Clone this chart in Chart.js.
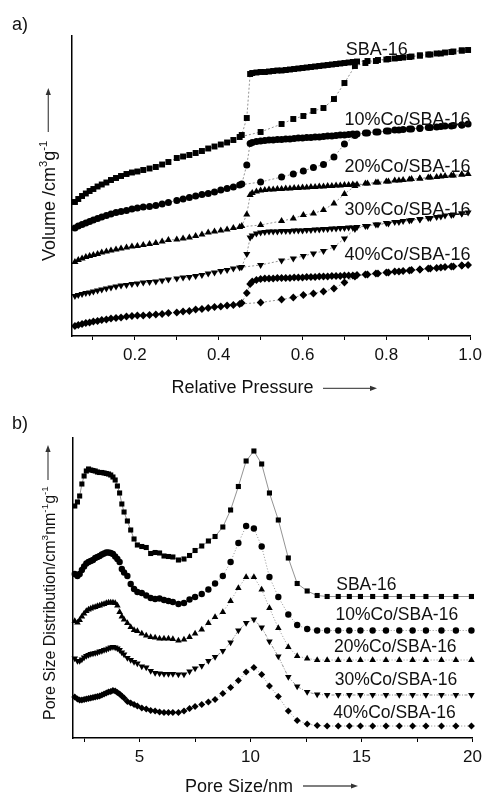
<!DOCTYPE html>
<html>
<head>
<meta charset="utf-8">
<script src="https://cdn.jsdelivr.net/npm/chart.js@4.4.1/dist/chart.umd.min.js"></script>
<style>
  html, body { margin: 0; padding: 0; background: #fff; }
  .panel { position: absolute; left: 0; width: 487px; height: 397px; }
</style>
</head>
<body>
<div class="panel" style="top:0"><canvas id="iso" width="487" height="397"></canvas></div>
<div class="panel" style="top:397px"><canvas id="psd" width="487" height="397"></canvas></div>
<script>
const samples = ['SBA-16', '10%Co/SBA-16', '20%Co/SBA-16', '30%Co/SBA-16', '40%Co/SBA-16'];

// N2 sorption: relative pressure on the way up, then on the way back down
const adsP = [0.057, 0.065, 0.074, 0.083, 0.092, 0.101, 0.111, 0.121, 0.132, 0.143,
  0.155, 0.167, 0.180, 0.193, 0.206, 0.220, 0.235, 0.250, 0.265, 0.280,
  0.300, 0.315, 0.330, 0.345, 0.360, 0.375, 0.390, 0.405, 0.420, 0.435,
  0.450, 0.500, 0.550, 0.578, 0.602, 0.626, 0.650, 0.675, 0.700, 0.725,
  0.750, 0.775, 0.800, 0.820, 0.840, 0.860, 0.880, 0.900, 0.920, 0.940,
  0.960, 0.980, 0.995];
const desP = [0.980, 0.955, 0.930, 0.905, 0.880, 0.855, 0.830, 0.805, 0.780, 0.755,
  0.730, 0.720, 0.710, 0.700, 0.690, 0.680, 0.670, 0.660, 0.650, 0.640,
  0.630, 0.620, 0.610, 0.600, 0.590, 0.580, 0.570, 0.560, 0.550, 0.540,
  0.530, 0.520, 0.510, 0.500, 0.490, 0.480, 0.475, 0.467, 0.455];

// volumes (curves offset for display, arbitrary units)
const adsSBA = [134, 137, 140, 142.5, 145, 147, 149.5, 151.5, 153.5, 156,
  158, 160, 162, 163.5, 164.5, 166, 167.5, 169, 171.5, 174,
  178, 179.5, 181, 183, 185, 187.5, 189.5, 191.5, 193.5, 196,
  199, 204, 212, 217, 220, 225, 228, 237, 253, 270,
  273, 275, 276.5, 277.5, 278.5, 279.5, 280.5, 281.5, 282.5, 283.5,
  284.5, 285.5, 286];
const desSBA = [285.5, 284, 282.5, 281.5, 280.5, 279, 278, 277, 276, 275,
  274.5, 274, 273.5, 273, 272.5, 272, 271.5, 271, 270.5, 270,
  269.5, 269, 268.5, 268, 267.5, 267, 266.5, 266, 265.5, 265.5,
  265, 264.5, 264, 264, 263.5, 263, 262, 218, 201];

const adsCo10 = [108, 110, 111.5, 113, 114.5, 116, 117.5, 119, 120.5, 122,
  123.5, 124.5, 125.5, 127, 128, 129, 129.5, 130.5, 132, 133.5,
  135.5, 137, 138.5, 140, 141.5, 142.5, 144, 146, 147.5, 149,
  151, 154, 159, 162, 165, 168.5, 171.5, 179, 192, 200.5,
  203, 204, 205, 206, 206.5, 207, 208, 208.5, 209, 210,
  210.5, 211, 212];
const desCo10 = [211, 210, 209.5, 208.5, 207.5, 207, 206, 205, 204, 203,
  202, 202, 201.5, 201, 201, 200.5, 200, 200, 199.5, 199,
  199, 198.5, 198.5, 198, 198, 197.5, 197, 197, 196.5, 196.5,
  196, 196, 195.5, 195, 194.5, 193.5, 192.5, 171, 152];

const adsCo20 = [74, 76, 77.5, 79, 80, 81, 82, 83.5, 84.5, 85.5,
  86.5, 87.5, 88.5, 89.5, 90, 91, 92, 93, 94.5, 96,
  96.5, 97.5, 98.5, 100, 101.5, 103.5, 104.5, 105.5, 106.5, 108,
  109, 111, 115, 117.5, 121, 122.5, 126, 132.5, 142, 150,
  152.5, 153.5, 154.5, 155.5, 156, 157, 157.5, 158.5, 159, 160,
  160.5, 161.5, 162];
const desCo20 = [161.5, 160.5, 159.5, 158.5, 157.5, 156.5, 155.5, 154.5, 153.5, 152.5,
  151.5, 151.5, 151, 151, 150.5, 150.5, 150, 150, 149.5, 149.5,
  149, 149, 148.5, 148.5, 148, 148, 147.5, 147.5, 147, 147,
  146.5, 146.5, 146, 145.5, 144.5, 143, 141, 121.5, 110];

const adsCo30 = [40, 41, 42, 43, 43.5, 44.5, 45.5, 46.5, 47.5, 48.5,
  49.5, 50.5, 51, 52, 52.5, 53.5, 54, 54.5, 55.5, 56.5,
  57.5, 58.5, 59, 60, 61, 62.5, 63.5, 65, 66, 67.5,
  68.5, 71, 75.5, 77.5, 80, 82.5, 85, 89, 97.5, 107,
  110, 111.5, 113, 114, 115, 116, 117, 118, 119, 120.5,
  121.5, 122.5, 123.5];
const desCo30 = [122.5, 121, 119.5, 118, 116.5, 115.5, 114, 112.5, 111.5, 110,
  109, 108.5, 108.5, 108, 108, 107.5, 107.5, 107, 107, 106.5,
  106.5, 106, 106, 105.5, 105.5, 105.5, 105, 105, 105, 104.5,
  104.5, 104.5, 104, 103.5, 102.5, 100.5, 98.5, 82, 69];

const adsCo40 = [10, 11, 12, 13, 13.5, 14.5, 15, 16, 16.5, 17.5,
  18, 18.5, 19.5, 20, 20.5, 20.5, 21, 21.5, 22, 23,
  23.5, 24.5, 25, 26.5, 27, 28, 29, 29.5, 30.5, 31,
  32, 33.5, 36.5, 38.5, 41, 42.5, 44.5, 47.5, 53.5, 59.5,
  61.5, 62.5, 63.5, 64.5, 65, 66, 66.5, 67.5, 68, 69,
  69.5, 70.5, 71];
const desCo40 = [70.5, 69.5, 68.5, 67.5, 66.5, 65.5, 64.5, 63.5, 62.5, 61.5,
  61, 60.5, 60.5, 60.5, 60, 60, 60, 59.5, 59.5, 59.5,
  59, 59, 59, 58.5, 58.5, 58.5, 58, 58, 58, 58,
  57.5, 57.5, 57.5, 57, 56, 54.5, 52, 43, 33];

// pore size distribution (nm), curves offset for display
const poreSize = [2.08, 2.2, 2.3, 2.4, 2.5, 2.6, 2.7, 2.8, 2.9, 3.0,
  3.1, 3.2, 3.3, 3.4, 3.5, 3.6, 3.7, 3.8, 3.9, 4.0,
  4.1, 4.2, 4.3, 4.45, 4.6, 4.75, 4.9, 5.1, 5.3, 5.5,
  5.7, 5.9, 6.1, 6.3, 6.5, 6.75, 7.0, 7.25, 7.5, 7.8,
  8.1, 8.4, 8.75, 9.1, 9.45, 9.8, 10.15, 10.5, 10.85, 11.25,
  11.7, 12.1, 12.55, 13.0, 13.45, 13.95, 14.45, 14.95, 15.5, 16.1,
  16.7, 17.3, 17.9, 18.6, 19.25, 19.95];
const psdSBA = [232, 236, 242, 254, 262, 267, 269, 268, 267.5, 267,
  266, 265.5, 265.5, 265, 264.5, 264, 263, 261, 258, 252,
  245, 234, 226, 217, 208, 199, 193, 191.5, 190.5, 184.5,
  185.5, 185, 182, 181.5, 181, 178, 179, 182.5, 187.5, 192,
  197, 201.5, 211, 228, 251.5, 277, 287, 274, 245, 218,
  180, 154.5, 147, 142.5, 141.5, 141.5, 141.5, 141.5, 141.5, 141.5,
  141.5, 141.5, 141.5, 141.5, 141.5, 141.5];
const psdCo10 = [164, 162, 164, 168, 171.5, 174.5, 176, 177, 178, 180,
  181, 182, 183.5, 184.5, 185.5, 185.5, 185, 184, 181.5, 179,
  176, 169, 165.5, 162, 154, 149, 146, 145, 142.5, 140,
  139, 139.5, 138, 137, 136, 134, 135, 138.5, 141, 144,
  148.5, 154.5, 162, 176, 195, 212, 209.5, 191.5, 161, 141,
  123.5, 113, 109, 107.5, 107.5, 107.5, 107.5, 107.5, 107.5, 107.5,
  107.5, 107.5, 107.5, 107.5, 107.5, 107.5];
const psdCo20 = [117, 115.5, 118, 121.5, 124.5, 127, 128.5, 129.5, 130.5, 131,
  132, 132.5, 133.5, 134, 135, 135.5, 135.5, 135.5, 135, 132.5,
  126, 121.5, 118.5, 115, 111, 108, 107, 104.5, 102.5, 101,
  100.5, 99.5, 99.5, 99.5, 99, 97.5, 98.5, 101, 104.5, 108.5,
  115, 121, 126, 137, 150, 161, 161, 148.5, 130, 110,
  91, 82, 79.5, 78, 78, 78, 78, 78, 78, 78,
  78, 78, 78, 78, 78, 78];
const psdCo30 = [79.5, 77, 77, 78.5, 80.5, 82, 83, 84, 84.5, 85,
  85.5, 86.5, 87, 88, 88.5, 89.5, 90.5, 91, 90.5, 89.5,
  88, 85.5, 83.5, 80, 78, 76, 74.5, 71.5, 70.5, 67,
  65, 64.5, 64, 64, 64, 63.5, 63.5, 66.5, 69.5, 72,
  77, 81, 87, 95.5, 107.5, 115, 118.5, 110.5, 96.5, 81.5,
  61, 51.5, 46, 43.5, 43, 43, 43, 43, 43, 43,
  43, 43, 43, 43, 43, 43];
const psdCo40 = [41, 39, 38, 38, 38.5, 39, 39.5, 40, 40.5, 41,
  41.5, 42, 43, 44, 45, 46, 46.5, 47.5, 47, 45.5,
  44, 42, 40, 36.5, 35, 33.5, 32, 30, 29, 27.5,
  27, 26, 25.5, 25.5, 25.5, 25.5, 27, 29.5, 31.5, 33.5,
  36, 38.5, 44.5, 50.5, 57.5, 66, 70.5, 63.5, 52, 41.5,
  27, 17.5, 14, 12.5, 12, 12, 12, 12, 12, 12,
  12, 12, 12, 12, 12, 12];

// axis ticks: every tick gets a mark, only the listed ones get a label
const pressureTicks = [0.1, 0.2, 0.3, 0.4, 0.5, 0.6, 0.7, 0.8, 0.9, 1.0];
const pressureLabels = [0.2, 0.4, 0.6, 0.8, 1.0];
const poreTicks = [2.5, 5, 7.5, 10, 12.5, 15, 17.5, 20];
const poreLabels = [5, 10, 15, 20];

const FONT = '"Liberation Sans", Arial, Helvetica, sans-serif';
const markers = [
  { pointStyle: 'rect', rotation: 0 },
  { pointStyle: 'circle', rotation: 0 },
  { pointStyle: 'triangle', rotation: 0 },
  { pointStyle: 'triangle', rotation: 180 },
  { pointStyle: 'rectRot', rotation: 0 }
];

function arrow(ctx, x0, y0, x1, y1) {
  const a = Math.atan2(y1 - y0, x1 - x0);
  const len = 7, hw = 2.6;
  ctx.save();
  ctx.strokeStyle = '#555';
  ctx.fillStyle = '#333';
  ctx.lineWidth = 1.3;
  ctx.beginPath();
  ctx.moveTo(x0, y0);
  ctx.lineTo(x1 - Math.cos(a) * len, y1 - Math.sin(a) * len);
  ctx.stroke();
  ctx.beginPath();
  ctx.moveTo(x1, y1);
  ctx.lineTo(x1 - Math.cos(a) * len - Math.sin(a) * hw, y1 - Math.sin(a) * len + Math.cos(a) * hw);
  ctx.lineTo(x1 - Math.cos(a) * len + Math.sin(a) * hw, y1 - Math.sin(a) * len - Math.cos(a) * hw);
  ctx.closePath();
  ctx.fill();
  ctx.restore();
}

// panel letter, axis titles with arrows, and the sample names next to the curves
const panelText = {
  id: 'panelText',
  afterDraw(chart, args, o) {
    const { ctx, scales: { x, y } } = chart;
    ctx.save();
    ctx.fillStyle = '#111';
    ctx.textAlign = 'left';
    ctx.textBaseline = 'alphabetic';

    ctx.font = `18px ${FONT}`;
    ctx.fillText(o.letter, o.letterPos[0], o.letterPos[1]);
    ctx.fillText(o.xTitle, o.xTitlePos[0], o.xTitlePos[1]);
    arrow(ctx, ...o.xArrow);

    ctx.save();
    ctx.translate(o.yTitlePos[0], o.yTitlePos[1]);
    ctx.rotate(-Math.PI / 2);
    let cx = 0;
    o.yTitle.forEach(([t, sup]) => {
      const size = sup ? o.yTitleSize * 0.62 : o.yTitleSize;
      ctx.font = `${size}px ${FONT}`;
      ctx.fillText(t, cx, sup ? -o.yTitleSize * 0.42 : 0);
      cx += ctx.measureText(t).width;
    });
    ctx.restore();
    arrow(ctx, ...o.yArrow);

    ctx.font = `${o.labelSize}px ${FONT}`;
    o.labels.forEach(l => {
      ctx.fillText(l.text, x.getPixelForValue(l.x), y.getPixelForValue(l.y));
    });
    ctx.restore();
  }
};

function seriesStyle(i, radius, dash) {
  return {
    borderColor: '#777',
    borderWidth: 0.8,
    borderDash: dash,
    backgroundColor: '#000',
    pointBackgroundColor: '#000',
    pointBorderColor: '#000',
    pointBorderWidth: 0,
    pointRadius: radius[i],
    pointStyle: markers[i].pointStyle,
    pointRotation: markers[i].rotation,
    tension: 0,
    fill: false,
    clip: false
  };
}

function makeOptions(c) {
  return {
    responsive: false,
    animation: false,
    events: [],
    layout: { autoPadding: false, padding: c.padding },
    plugins: { legend: { display: false }, tooltip: { enabled: false }, panelText: c.text },
    scales: {
      x: {
        type: 'linear',
        min: c.xMin,
        max: c.xMax,
        afterBuildTicks: s => { s.ticks = c.ticks.map(v => ({ value: v })); },
        afterFit: s => { s.height = c.xHeight; },
        border: { color: '#000', width: 1.5 },
        grid: { drawOnChartArea: false, drawTicks: true, tickLength: 4, color: '#000', lineWidth: 1 },
        ticks: {
          color: '#111',
          font: { family: FONT, size: 17 },
          padding: 5,
          maxRotation: 0,
          autoSkip: false,
          callback: c.tickLabel
        }
      },
      y: {
        min: 0,
        max: 300,
        afterFit: s => { s.width = c.yWidth; },
        border: { color: '#000', width: 1.5 },
        grid: { display: false },
        ticks: { display: false }
      }
    }
  };
}

// a) isotherms
const isoRadius = [4.2, 3.5, 4.1, 4.1, 3.9];
const isoAds = [adsSBA, adsCo10, adsCo20, adsCo30, adsCo40];
const isoDes = [desSBA, desCo10, desCo20, desCo30, desCo40];
const isoLabelAt = [[0.703, 281], [0.700, 211], [0.700, 164], [0.700, 121], [0.700, 76]];

new Chart(document.getElementById('iso'), {
  type: 'line',
  data: {
    datasets: samples.map((name, i) => ({
      label: name,
      data: adsP.map((p, k) => ({ x: p, y: isoAds[i][k] }))
        .concat(desP.map((p, k) => ({ x: p, y: isoDes[i][k] }))),
      ...seriesStyle(i, isoRadius, [2, 2])
    }))
  },
  options: makeOptions({
    padding: { left: 0, top: 36, right: 13, bottom: 0 },
    xMin: 0.05, xMax: 1.0, xHeight: 61, yWidth: 72,
    ticks: pressureTicks,
    tickLabel: v => (pressureLabels.includes(v) ? v.toFixed(1) : ''),
    text: {
      letter: 'a)', letterPos: [12, 30],
      xTitle: 'Relative Pressure', xTitlePos: [171.5, 392.5],
      xArrow: [323, 388.3, 377, 388.3],
      yTitle: [['Volume /cm', 0], ['3', 1], ['g', 0], ['-1', 1]],
      yTitleSize: 18, yTitlePos: [55, 261],
      yArrow: [48.3, 132, 48.3, 88],
      labelSize: 18,
      labels: samples.map((s, i) => ({ text: s, x: isoLabelAt[i][0], y: isoLabelAt[i][1] }))
    }
  }),
  plugins: [panelText]
});

// b) pore size distributions
const psdRadius = [3.6, 3.2, 3.8, 3.8, 3.5];
const psdSets = [psdSBA, psdCo10, psdCo20, psdCo30, psdCo40];
const psdDash = [[], [1, 2], [1, 2], [3, 1.5, 1, 1.5], [1, 2]];
const psdLabelAt = [[13.86, 148], [13.83, 118], [13.76, 86], [13.79, 53], [13.72, 20]];

new Chart(document.getElementById('psd'), {
  type: 'line',
  data: {
    datasets: samples.map((name, i) => ({
      label: name,
      data: poreSize.map((d, k) => ({ x: d, y: psdSets[i][k] })),
      ...seriesStyle(i, psdRadius, psdDash[i])
    }))
  },
  options: makeOptions({
    padding: { left: 0, top: 41, right: 12, bottom: 0 },
    xMin: 2, xMax: 20, xHeight: 56, yWidth: 73,
    ticks: poreTicks,
    tickLabel: v => (poreLabels.includes(v) ? String(v) : ''),
    text: {
      letter: 'b)', letterPos: [12, 32],
      xTitle: 'Pore Size/nm', xTitlePos: [185, 394.5],
      xArrow: [303, 389, 358, 389],
      yTitle: [['Pore Size Distribution/cm', 0], ['3', 1], ['nm', 0], ['-1', 1], ['g', 0], ['-1', 1]],
      yTitleSize: 16, yTitlePos: [55, 323],
      yArrow: [48, 83, 48, 48],
      labelSize: 17.5,
      labels: samples.map((s, i) => ({ text: s, x: psdLabelAt[i][0], y: psdLabelAt[i][1] }))
    }
  }),
  plugins: [panelText]
});
</script>
</body>
</html>
